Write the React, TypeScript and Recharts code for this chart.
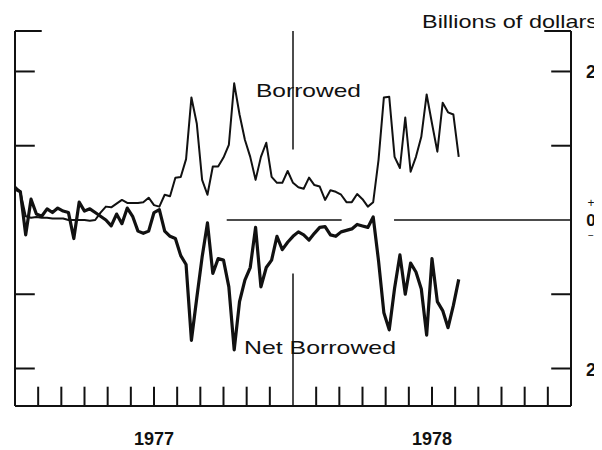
import { Line, LineChart, ReferenceLine, XAxis, YAxis } from "recharts"

// weekly observations, Jan 1977 - Jul 1978, billions of dollars
const borrowed = [
  0.45, 0.38, 0.05, 0.03, 0.04, 0.03, 0.03, 0.02, 0.02, 0.02,
  0.0, 0.0, 0.0, 0.0, -0.01, 0.0, 0.1, 0.18, 0.17, 0.22,
  0.27, 0.23, 0.23, 0.23, 0.24, 0.3, 0.2, 0.18, 0.34, 0.32,
  0.57, 0.58, 0.82, 1.65, 1.3, 0.54, 0.34, 0.72, 0.72, 0.84,
  1.01, 1.84, 1.42, 1.08, 0.85, 0.54, 0.85, 1.04, 0.58, 0.5,
  0.5, 0.66, 0.5, 0.44, 0.42, 0.57, 0.47, 0.45, 0.27, 0.4,
  0.38, 0.34, 0.24, 0.24, 0.35, 0.28, 0.18, 0.24, 0.81, 1.65,
  1.66, 0.85, 0.7, 1.38, 0.65, 0.85, 1.12, 1.69, 1.3, 0.92,
  1.58, 1.45, 1.42, 0.85,
]

// plotted below zero (net borrowed), above zero = net free
const netBorrowed = [
  0.42, 0.38, -0.2, 0.28, 0.08, 0.05, 0.15, 0.1, 0.16, 0.12,
  0.1, -0.25, 0.24, 0.12, 0.15, 0.1, 0.05, 0.0, -0.08, 0.08,
  -0.05, 0.16, 0.05, -0.15, -0.18, -0.15, 0.1, 0.14, -0.15, -0.22,
  -0.25, -0.48, -0.6, -1.62, -1.05, -0.5, -0.04, -0.72, -0.52, -0.54,
  -0.9, -1.75, -1.1, -0.81, -0.64, -0.1, -0.9, -0.64, -0.54, -0.22,
  -0.4, -0.3, -0.22, -0.16, -0.2, -0.27, -0.18, -0.1, -0.09, -0.2,
  -0.22, -0.16, -0.14, -0.12, -0.06, -0.08, -0.1, 0.04, -0.55, -1.25,
  -1.48, -0.92, -0.47, -1.0, -0.58, -0.7, -0.93, -1.55, -0.52, -1.1,
  -1.22, -1.45, -1.15, -0.8,
]

const years = ["1977", "1978"]
const yearTicks = [26, 78]
const valueTicks = [-2, 0, 2]
const sideTicks = [-2, -1, 1, 2]
const months = [1, 2, 3, 4, 5, 6, 7, 8, 9, 10, 11, 13, 14, 15, 16, 17, 18, 19, 20, 21, 22, 23]

const data = borrowed.map((b, i) => ({ week: i, borrowed: b, netBorrowed: netBorrowed[i] }))

const X_MAX = 104
const WPM = X_MAX / 24
const Y_MIN = -2.505
const Y_MAX = 2.545
const INK = "#111"
const FONT = "'Liberation Sans', Arial, Helvetica, sans-serif"

function ValueTick({ x, y, payload }: any) {
  const v = payload.value
  const cx = x + 12
  if (v !== 0) {
    return (
      <text x={cx} y={y + 7} textAnchor="middle" fontSize={18} fontWeight="bold" fill={INK} fontFamily={FONT}>
        {Math.abs(v)}
      </text>
    )
  }
  // small "+" above and "−" below the zero
  return (
    <g fill={INK} fontFamily={FONT} textAnchor="middle">
      <text x={cx} y={y - 12.5} fontSize={12}>+</text>
      <text x={cx} y={y + 6} fontSize={17} fontWeight="bold">0</text>
      <text x={cx} y={y + 19} fontSize={10}>−</text>
    </g>
  )
}

export default function App() {
  return (
    <LineChart
      width={594}
      height={442}
      data={data}
      margin={{ top: 23, right: 0, left: 7, bottom: 0 }}
      style={{ fontFamily: FONT }}
    >
      <XAxis
        dataKey="week"
        type="number"
        domain={[0, X_MAX]}
        ticks={yearTicks}
        tickFormatter={(v) => years[yearTicks.indexOf(v)]}
        height={44}
        axisLine={{ stroke: INK, strokeWidth: 2 }}
        tickLine={false}
        tickMargin={20}
        tick={{ fontSize: 18, fontWeight: "bold", fill: INK }}
        allowDataOverflow
      />
      <YAxis
        orientation="right"
        type="number"
        domain={[Y_MIN, Y_MAX]}
        ticks={valueTicks}
        width={31}
        axisLine={false}
        tickLine={false}
        tick={<ValueTick />}
        allowDataOverflow
      />

      {/* frame */}
      <ReferenceLine x={0} stroke={INK} strokeWidth={2} />
      <ReferenceLine x={X_MAX} stroke={INK} strokeWidth={2} />
      <ReferenceLine segment={[{ x: 0, y: Y_MAX }, { x: 5, y: Y_MAX }]} stroke={INK} strokeWidth={2} />
      <ReferenceLine segment={[{ x: X_MAX - 5, y: Y_MAX }, { x: X_MAX, y: Y_MAX }]} stroke={INK} strokeWidth={2} />
      {sideTicks.map((v) => (
        <ReferenceLine key={"l" + v} segment={[{ x: 0, y: v }, { x: 3.7, y: v }]} stroke={INK} strokeWidth={2} />
      ))}
      {sideTicks.map((v) => (
        <ReferenceLine key={"r" + v} segment={[{ x: X_MAX - 3.7, y: v }, { x: X_MAX, y: v }]} stroke={INK} strokeWidth={2} />
      ))}
      {months.map((m) => (
        <ReferenceLine key={"m" + m} segment={[{ x: m * WPM, y: Y_MIN }, { x: m * WPM, y: Y_MIN + 0.26 }]} stroke={INK} strokeWidth={2} />
      ))}

      {/* year divider and zero line, broken around the data */}
      <ReferenceLine segment={[{ x: 52, y: Y_MAX }, { x: 52, y: 0.95 }]} stroke={INK} strokeWidth={1.5} />
      <ReferenceLine segment={[{ x: 52, y: -0.72 }, { x: 52, y: Y_MIN }]} stroke={INK} strokeWidth={1.5} />
      <ReferenceLine segment={[{ x: 39.6, y: 0 }, { x: 61.1, y: 0 }]} stroke={INK} strokeWidth={1.3} />
      <ReferenceLine segment={[{ x: 70.9, y: 0 }, { x: X_MAX, y: 0 }]} stroke={INK} strokeWidth={1.3} />

      <Line
        type="linear"
        dataKey="borrowed"
        stroke={INK}
        strokeWidth={2}
        strokeLinejoin="round"
        dot={false}
        isAnimationActive={false}
      />
      <Line
        type="linear"
        dataKey="netBorrowed"
        stroke={INK}
        strokeWidth={3.2}
        strokeLinejoin="round"
        dot={false}
        isAnimationActive={false}
      />

      <text x={414} y={20} fontSize={19} fill={INK} textLength={176} lengthAdjust="spacingAndGlyphs">
        Billions of dollars
      </text>
      <text x={248} y={89} fontSize={19} fill={INK} textLength={105} lengthAdjust="spacingAndGlyphs">
        Borrowed
      </text>
      <text x={236} y={346} fontSize={19} fill={INK} textLength={152} lengthAdjust="spacingAndGlyphs">
        Net Borrowed
      </text>
    </LineChart>
  )
}
